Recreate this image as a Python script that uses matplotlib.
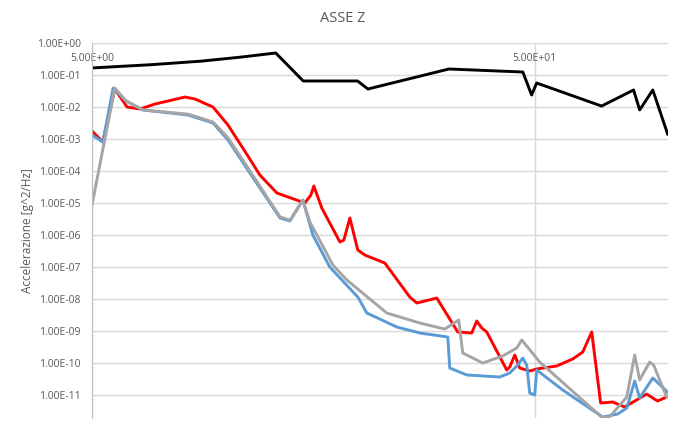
import matplotlib
matplotlib.use("Agg")
import matplotlib.pyplot as plt
from matplotlib.ticker import FixedLocator, FuncFormatter, NullLocator

# dati (frequenza [Hz], PSD [g^2/Hz])
freq_nero = [5.0, 6.8, 8.8, 10.8, 13.0, 15.0, 19.9, 21.0, 32.0, 47.0, 49.2, 50.5, 70.8, 83.6,
             86.3, 92.4, 99.8]
psd_nero = [0.166, 0.21, 0.27, 0.36, 0.487, 0.065, 0.065, 0.0365, 0.154, 0.124, 0.0237, 0.0562,
            0.0107, 0.034, 0.0081, 0.034, 0.00143]

freq_rosso = [5.00, 5.29, 5.63, 6.00, 6.42, 6.94, 8.11, 8.54, 9.38, 10.14, 11.25, 11.97,
              13.08, 15.13, 15.61, 15.85, 16.52, 18.15, 18.53, 19.12, 19.92, 20.66, 22.93,
              26.11, 27.08, 30.04, 33.51, 36.04, 36.99, 37.96, 38.96, 43.23, 43.91, 45.07,
              46.25, 48.72, 50.52, 56.05, 60.9, 64.2, 67.25, 70.45, 75.0, 79.8, 89.5, 94.7, 99.3]
psd_rosso = [1.78e-3, 8.06e-4, 3.65e-2, 1.00e-2, 8.66e-3, 1.24e-2, 2.05e-2, 1.78e-2, 1.00e-2,
             2.74e-3, 2.94e-4, 7.50e-5, 2.05e-5, 1.00e-5, 1.78e-5, 3.40e-5, 6.98e-6, 6.04e-7,
             6.98e-7, 3.40e-6, 3.40e-7, 2.37e-7, 1.33e-7, 1.15e-8, 7.50e-9, 1.07e-8, 9.31e-10,
             8.66e-10, 2.05e-9, 1.24e-9, 9.31e-10, 6.04e-11, 7.50e-11, 1.78e-10, 6.98e-11,
             5.62e-11, 6.49e-11, 8.06e-11, 1.33e-10, 2.21e-10, 9.31e-10, 5.62e-12, 6.04e-12,
             4.22e-12, 1.07e-11, 6.49e-12, 8.66e-12]

freq_blu = [5.00, 5.29, 5.58, 5.97, 6.52, 8.24, 9.38, 10.14, 11.25, 13.29, 14.0, 14.97,
            15.77, 17.22, 19.92, 20.88, 24.41, 27.50, 31.81, 32.14, 35.12, 41.68, 43.91,
            45.78, 46.98, 47.96, 48.72, 50.0, 50.52, 57.85, 71.2, 77.0, 80.7, 84.1, 86.3,
            92.4, 99.8]
psd_blu = [1.33e-3, 8.06e-4, 3.92e-2, 1.54e-2, 8.06e-3, 5.62e-3, 3.16e-3, 9.31e-4, 1.07e-4,
           3.40e-6, 2.74e-6, 1.24e-5, 1.00e-6, 1.00e-7, 1.15e-8, 3.65e-9, 1.33e-9, 8.66e-10,
           6.49e-10, 6.98e-11, 4.22e-11, 3.65e-11, 4.87e-11, 8.66e-11, 1.43e-10, 8.66e-11,
           1.15e-11, 1.00e-11, 6.04e-11, 1.43e-11, 2.05e-12, 2.55e-12, 3.92e-12, 2.74e-11,
           8.06e-12, 3.40e-11, 1.24e-11]

freq_grigio = [5.00, 5.63, 5.97, 6.52, 8.24, 9.38, 10.14, 11.25, 13.29, 14.0, 14.97, 15.53,
               17.50, 18.82, 23.16, 27.50, 31.32, 33.68, 34.39, 38.16, 42.34, 45.54, 46.74,
               51.32, 70.8, 73.8, 80.7, 84.1, 86.3, 90.9, 92.8, 99.3]
psd_grigio = [8.66e-6, 3.92e-2, 1.54e-2, 8.06e-3, 6.0e-3, 3.4e-3, 1.1e-3, 1.25e-4, 3.7e-6,
              2.9e-6, 1.24e-5, 2.55e-6, 1.15e-7, 3.92e-8, 3.65e-9, 1.78e-9, 1.15e-9, 2.21e-9,
              2.05e-10, 1.00e-10, 1.66e-10, 2.94e-10, 5.24e-10, 1.07e-10, 2.05e-12, 2.05e-12,
              8.66e-12, 1.78e-10, 2.94e-11, 1.07e-10, 8.66e-11, 8.66e-12]

tick_x = [5, 50]
tick_y = [10.0 ** e for e in range(0, -12, -1)]

plt.rcParams['font.family'] = ['Open Sans', 'DejaVu Sans']
grigio_testo = '#595959'

fig = plt.figure(figsize=(6.86, 4.22), dpi=100)
ax = fig.add_axes([92 / 686, 1 - 418 / 422, 576 / 686, 375 / 422])

lw = 2.1
ax.plot(freq_rosso, psd_rosso, color='#ff0000', lw=lw)
ax.plot(freq_blu, psd_blu, color='#5b9bd5', lw=lw)
ax.plot(freq_grigio, psd_grigio, color='#a5a5a5', lw=lw)
ax.plot(freq_nero, psd_nero, color='#000000', lw=lw)

ax.set_xscale('log')
ax.set_yscale('log')
ax.set_xlim(5, 100)
ax.set_ylim(10 ** (-375 / 32), 1)

ax.xaxis.set_major_locator(FixedLocator(tick_x))
ax.xaxis.set_minor_locator(NullLocator())
ax.xaxis.set_major_formatter(FuncFormatter(lambda v, p: f"{v:.2E}"))
ax.yaxis.set_major_locator(FixedLocator(tick_y))
ax.yaxis.set_minor_locator(NullLocator())
ax.yaxis.set_major_formatter(FuncFormatter(lambda v, p: f"{v:.2E}"))

ax.xaxis.tick_top()
ax.tick_params(axis='x', length=0, pad=-15, labelsize=7.5, colors=grigio_testo)
ax.tick_params(axis='y', length=0, pad=8, labelsize=7.5, colors=grigio_testo)

ax.grid(True, color='#d9d9d9', lw=1)
ax.set_axisbelow(True)
for s in ['top', 'right', 'bottom']:
    ax.spines[s].set_visible(False)
ax.spines['left'].set_color('#bfbfbf')

ax.set_ylabel('Accelerazione [g^2/Hz]', fontsize=8.5, color=grigio_testo, labelpad=2)
fig.text(0.5, 1 - 18 / 422, 'ASSE Z', ha='center', va='center', fontsize=10.5, color=grigio_testo)

fig.savefig('out.png', dpi=100)
